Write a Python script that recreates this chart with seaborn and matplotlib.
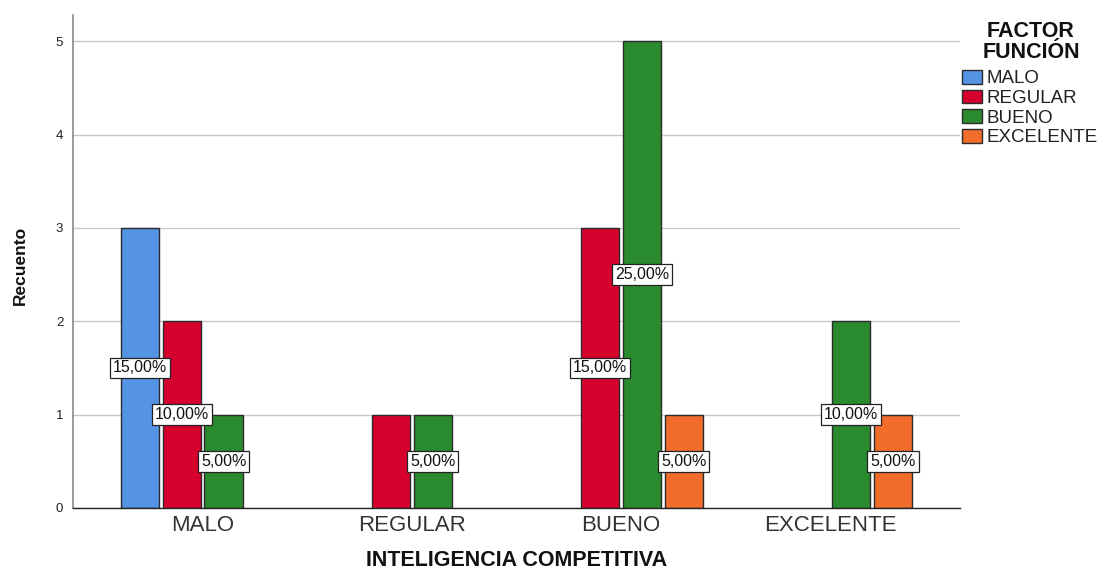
import matplotlib
matplotlib.use("Agg")
import matplotlib.pyplot as plt
import seaborn as sns
import pandas as pd
from matplotlib.patches import Patch

# Counts per INTELIGENCIA COMPETITIVA category, one list per FACTOR FUNCIÓN level
categories = ["MALO", "REGULAR", "BUENO", "EXCELENTE"]
factor_levels = ["MALO", "REGULAR", "BUENO", "EXCELENTE"]
count_malo = [3, 0, 0, 0]
count_regular = [2, 1, 3, 0]
count_bueno = [1, 1, 5, 2]
count_excelente = [0, 0, 1, 1]
# (category, level) pairs whose percentage label is not shown
unlabeled = [("REGULAR", "REGULAR")]

colors = ["#5594E4", "#D6002F", "#2A8A2E", "#F26C2C"]
font = "Liberation Sans"

counts = {
    "MALO": count_malo,
    "REGULAR": count_regular,
    "BUENO": count_bueno,
    "EXCELENTE": count_excelente,
}
rows = []
for level in factor_levels:
    for cat, n in zip(categories, counts[level]):
        rows.append({"ic": cat, "ff": level, "n": n})
df = pd.DataFrame(rows)
total = df["n"].sum()

sns.set_theme(style="white")
plt.rcParams["font.family"] = [font, "DejaVu Sans"]

fig = plt.figure(figsize=(11.04, 5.72), dpi=100)
ax = fig.add_axes([73 / 1104, 1 - 508 / 572, (960 - 73) / 1104, (508 - 15) / 572])

sns.barplot(
    data=df, x="ic", y="n", hue="ff",
    order=categories, hue_order=factor_levels,
    palette=colors, saturation=1,
    edgecolor="#2b2b2b", linewidth=1.0,
    width=0.8, gap=0.08, legend=False, ax=ax, errorbar=None,
)

# Percentage labels centred half-way up each bar; empty bars stay hidden
for container, level in zip(ax.containers, factor_levels):
    for bar, cat, n in zip(container, categories, counts[level]):
        if n == 0:
            bar.set_visible(False)
            continue
        if (cat, level) in unlabeled:
            continue
        pct = n / total * 100
        txt = f"{pct:.2f}%".replace(".", ",")
        ax.text(
            bar.get_x() + bar.get_width() / 2, n / 2, txt,
            ha="center", va="center", fontsize=11.5, color="#111111", zorder=5,
            bbox=dict(boxstyle="square,pad=0.18", fc="white", ec="#222222", lw=0.9),
        )

ax.set_xlim(-0.62, 3.62)
ax.set_ylim(0, 5.28)
ax.set_yticks([0, 1, 2, 3, 4, 5])
ax.yaxis.grid(True, color="#c8c8c8", lw=1.0)
ax.set_axisbelow(True)
for side in ("top", "right"):
    ax.spines[side].set_visible(False)
ax.spines["left"].set_color("#8a8a8a")
ax.spines["left"].set_linewidth(1.2)
ax.spines["bottom"].set_color("#222222")
ax.spines["bottom"].set_linewidth(1.0)

ax.tick_params(axis="y", length=0, pad=7, labelsize=9.5, labelcolor="#222222")
ax.tick_params(axis="x", length=0, pad=5, labelsize=16, labelcolor="#333333")

ax.set_xlabel("INTELIGENCIA COMPETITIVA", fontsize=15.5, fontweight="bold", color="#111111")
ax.xaxis.set_label_coords(0.5, (508 - 561) / 493)
ax.xaxis.label.set_va("center")
ax.set_ylabel("Recuento", fontsize=12.5, fontweight="bold", color="#111111")
ax.yaxis.set_label_coords((20 - 73) / 887, (508 - 265) / 493)
ax.yaxis.label.set_va("center")

# Legend entries, with the two-line heading set above them
handles = [Patch(facecolor=c, edgecolor="#2b2b2b", lw=1.0) for c in colors]
leg = fig.legend(
    handles, factor_levels,
    loc="upper left", bbox_to_anchor=(962 / 1104, 1 - 70 / 572),
    frameon=False, fontsize=13.5, handlelength=1.07, handleheight=0.75,
    handletextpad=0.25, labelspacing=0.12, borderpad=0, borderaxespad=0,
)
for t in leg.get_texts():
    t.set_color("#222222")
fig.text(
    1031 / 1104, 1 - 42 / 572, "FACTOR\nFUNCIÓN",
    ha="center", va="center", fontsize=15.5, fontweight="bold",
    color="#111111", linespacing=1.0, multialignment="center",
)

fig.savefig("out.png", dpi=100)
